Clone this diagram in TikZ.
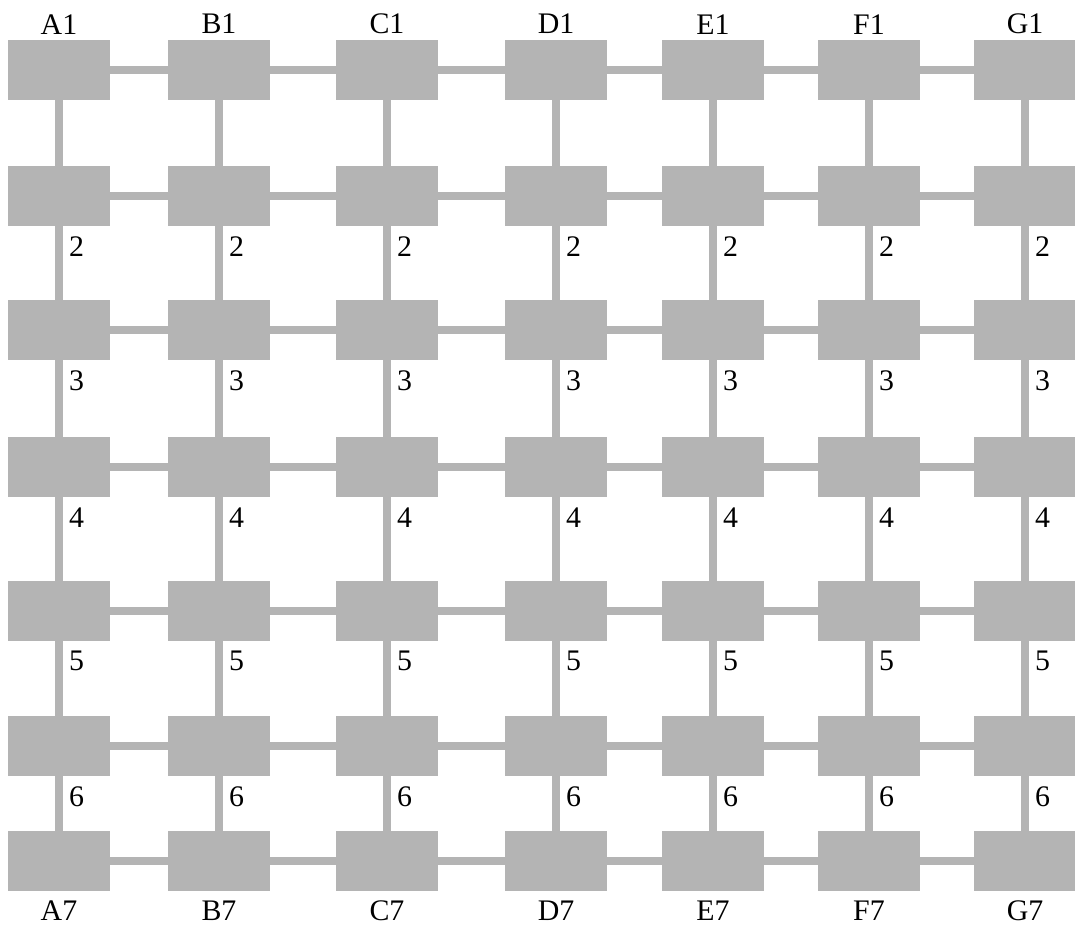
\documentclass[tikz,border=0pt]{standalone}
\usepackage{fontspec}
\setmainfont{Liberation Serif}
\usetikzlibrary{positioning, backgrounds}

\definecolor{boxgray}{RGB}{180,180,180}

\tikzset{
  cell/.style={fill=boxgray, minimum width=2.04cm, minimum height=1.2cm, inner sep=0pt},
  link/.style={draw=boxgray, line width=4.3pt},
  tag/.style={font=\fontsize{17}{17}\selectfont, inner sep=1pt},
}

\begin{document}
\begin{tikzpicture}[x=0.02cm, y=-0.02cm]
  \useasboundingbox (0,0) rectangle (1075,930);

  % Grid of cells
  \foreach \col/\x in {A/59, B/219, C/387, D/556, E/713, F/869, G/1025} {
    \foreach \row/\y in {1/70, 2/196, 3/330, 4/467, 5/611, 6/746, 7/861}
      \node[cell] (\col\row) at (\x,\y) {};
  }

  % Links behind the cells
  \begin{scope}[on background layer]
    \foreach \col in {A,B,C,D,E,F,G}
      \foreach \row/\nxt in {1/2, 2/3, 3/4, 4/5, 5/6, 6/7}
        \draw[link] (\col\row) -- (\col\nxt);
    \foreach \lft/\rgt in {A/B, B/C, C/D, D/E, E/F, F/G}
      \foreach \row in {1,...,7}
        \draw[link] (\lft\row) -- (\rgt\row);
  \end{scope}

  % Column labels
  \foreach \col in {A,B,C,D,E,F,G} {
    \node[tag, above=2pt of \col1] (top\col) {\col1};
    \node[tag, below=4pt of \col7] (bot\col) {\col7};
  }

  % Row numbers beside the links
  \foreach \col in {A,B,C,D,E,F,G}
    \foreach \row in {2,...,6}
      \node[tag, anchor=west] (num\col\row) at ([shift={(8,20)}]\col\row.south) {\row};
\end{tikzpicture}
\end{document}
